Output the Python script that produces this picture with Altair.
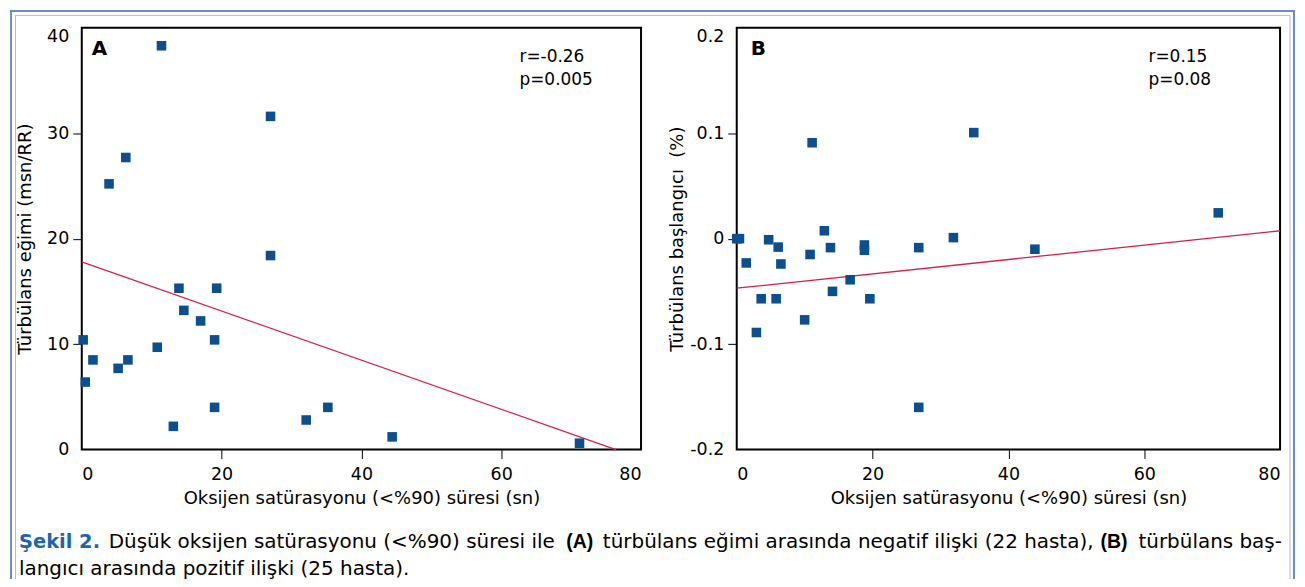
import altair as alt
import pandas as pd

# ---------------- data ----------------
# Panel A: Türbülans eğimi vs Oksijen satürasyonu süresi (22 hasta)
a_x = [11.4, 27.0, 6.3, 3.9, 27.0, 13.9, 19.3, 14.6, 17.0, 0.2, 19.0,
       10.8, 1.6, 6.6, 5.2, 0.5, 19.0, 35.2, 13.1, 32.1, 44.4, 71.2]
a_y = [38.3, 31.6, 27.7, 25.2, 18.4, 15.3, 15.3, 13.2, 12.2, 10.4, 10.4,
       9.7, 8.5, 8.5, 7.7, 6.4, 4.0, 4.0, 2.2, 2.8, 1.2, 0.6]
a_fit_x = [0, 76.4]
a_fit_y = [17.8, 0.0]

# Panel B: Türbülans başlangıcı vs Oksijen satürasyonu süresi (25 hasta)
b_x = [0.0, 0.4, 1.4, 4.7, 6.1, 6.5, 3.6, 5.8, 2.9, 10.0, 10.8, 11.1, 12.9,
       13.8, 14.1, 16.7, 18.8, 18.8, 19.6, 26.8, 26.8, 31.9, 34.9, 43.9, 70.9]
b_y = [0.0, 0.0, -0.023, -0.001, -0.008, -0.024, -0.057, -0.057, -0.089,
       -0.077, -0.015, 0.091, 0.0075, -0.0085, -0.050, -0.039, -0.006,
       -0.011, -0.057, -0.0085, -0.160, 0.001, 0.1006, -0.010, 0.0245]
b_fit_x = [0, 80]
b_fit_y = [-0.047, 0.0075]

x_ticks = [0, 20, 40, 60, 80]
a_y_ticks = [0, 10, 20, 30, 40]
b_y_ticks = [-0.2, -0.1, 0, 0.1, 0.2]

x_title = "Oksijen satürasyonu (<%90) süresi (sn)"
a_y_title = "Türbülans eğimi (msn/RR)"
b_y_title = "Türbülans başlangıcı\u00a0\u00a0(%)"
a_stats = ["r=-0.26", "p=0.005"]
b_stats = ["r=0.15", "p=0.08"]

caption_1 = [
    ("Şekil 2.", "bold", "#1d66a8"),
    ("Düşük oksijen satürasyonu (<%90) süresi ile", "normal", "black"),
    ("(A)", "bold", "black"),
    ("türbülans eğimi arasında negatif ilişki (22 hasta),", "normal", "black"),
    ("(B)", "bold", "black"),
    ("türbülans baş-", "normal", "black"),
]
caption_2 = "langıcı arasında pozitif ilişki (25 hasta)."

# ---------------- styling ----------------
FONT = "DejaVu Sans"
PT_COLOR = "#0b4f8e"
FIT_COLOR = "#d42149"
OUTER = "#6d8cc4"
INNER = "#a9bde0"


def text_at(txt, x, y, size=17, weight="normal", color="black", align="left", font=FONT):
    return alt.Chart(pd.DataFrame({"t": [txt]})).mark_text(
        font=font, fontSize=size, fontWeight=weight, color=color,
        align=align, baseline="alphabetic"
    ).encode(x=alt.value(x), y=alt.value(y), text="t:N")


def rule_at(x, y, x2=None, y2=None, color=OUTER, width=2):
    enc = {"x": alt.value(x), "y": alt.value(y)}
    if x2 is not None:
        enc["x2"] = alt.value(x2)
    if y2 is not None:
        enc["y2"] = alt.value(y2)
    return alt.Chart(pd.DataFrame({"d": [0]})).mark_rule(
        color=color, strokeWidth=width
    ).encode(**enc)


def panel(xs, ys, fx, fy, ydom, yticks, ytitle, ylabel_expr, ytitle_pad,
          letter, letter_x, stats, stats_x):
    pts = pd.DataFrame({"x": xs, "y": ys})
    fit = pd.DataFrame({"x": fx, "y": fy})
    xscale = alt.Scale(domain=[0, 80], nice=False, zero=False)
    yscale = alt.Scale(domain=ydom, nice=False, zero=False)
    end_x = "datum.value == 0 || datum.value == 80"
    end_y = f"datum.value == {ydom[0]} || datum.value == {ydom[1]}"
    xaxis = alt.Axis(
        values=x_ticks, title=x_title, labelFlush=True,
        tickColor={"expr": f"({end_x}) ? 'transparent' : 'black'"},
        labelPadding=7, titlePadding=7,
    )
    yaxis = alt.Axis(
        values=yticks, title=ytitle, labelExpr=ylabel_expr,
        labelBaseline={"expr": f"datum.value == {ydom[1]} ? 'top' : 'middle'"},
        tickColor={"expr": f"({end_y}) ? 'transparent' : 'black'"},
        labelPadding=4, titlePadding=ytitle_pad,
    )
    points = alt.Chart(pts).mark_square(size=92, color=PT_COLOR, opacity=1).encode(
        x=alt.X("x:Q", scale=xscale, axis=xaxis),
        y=alt.Y("y:Q", scale=yscale, axis=yaxis),
    )
    line = alt.Chart(fit).mark_line(color=FIT_COLOR, strokeWidth=1.3).encode(
        x=alt.X("x:Q", scale=xscale),
        y=alt.Y("y:Q", scale=yscale),
    )
    return [line, points,
            text_at(letter, letter_x, 27, size=20, weight="bold"),
            text_at(stats[0], stats_x, 34),
            text_at(stats[1], stats_x, 57)]


a_layers = panel(a_x, a_y, a_fit_x, a_fit_y, [0, 40], a_y_ticks, a_y_title,
                 "datum.label", 12, "A", 10, a_stats, 439)
b_layers = panel(b_x, b_y, b_fit_x, b_fit_y, [-0.2, 0.2], b_y_ticks, b_y_title,
                 "datum.value == 0 ? '0' : (datum.value < 0 ? '-' + format(-datum.value, '.1f') : format(datum.value, '.1f'))",
                 3, "B", 14, b_stats, 413)

# figure frame (double border) and caption, positioned relative to panel A
frame = [
    rule_at(-71, -17, y2=553, color=OUTER, width=2),
    rule_at(-72, -17, x2=1217, color=OUTER, width=2),
    rule_at(1216, -17, y2=553, color=OUTER, width=2),
    rule_at(-66.5, -12.5, y2=553, color=INNER, width=1),
    rule_at(-66.5, -12.5, x2=1212, color=INNER, width=1),
    rule_at(1212, -12.5, y2=553, color=INNER, width=1),
]
cap_x = [-63, 27, 486, 522.7, 1022, 1060]
caption = []
for (t, w, c), cx in zip(caption_1, cap_x):
    if t.startswith("("):
        caption.append(text_at(t, cx, 522, size=19.5, weight=w, color=c,
                               font="Liberation Sans"))
    else:
        caption.append(text_at(t, cx, 522, size=(19.5 if w == "bold" else 20),
                               weight=w, color=c))
caption.append(text_at(caption_2, -63, 549, size=20))

chart_a = alt.layer(*(frame + a_layers + caption)).properties(width=561, height=423)
chart_b = alt.layer(*b_layers).properties(width=545, height=423)

chart = alt.hconcat(chart_a, chart_b, spacing=96, bounds="flush").properties(
    padding=0, background="white"
).resolve_scale(x="independent", y="independent").configure_view(
    stroke="black", strokeWidth=2
).configure_axis(
    labelFont=FONT, titleFont=FONT, labelFontSize=17.5, titleFontSize=18,
    titleFontWeight="normal", labelColor="black", titleColor="black",
    grid=False, domain=False, tickSize=9, tickWidth=1,
)

chart.save("out.html", embed_options={"renderer": "svg", "actions": False})
